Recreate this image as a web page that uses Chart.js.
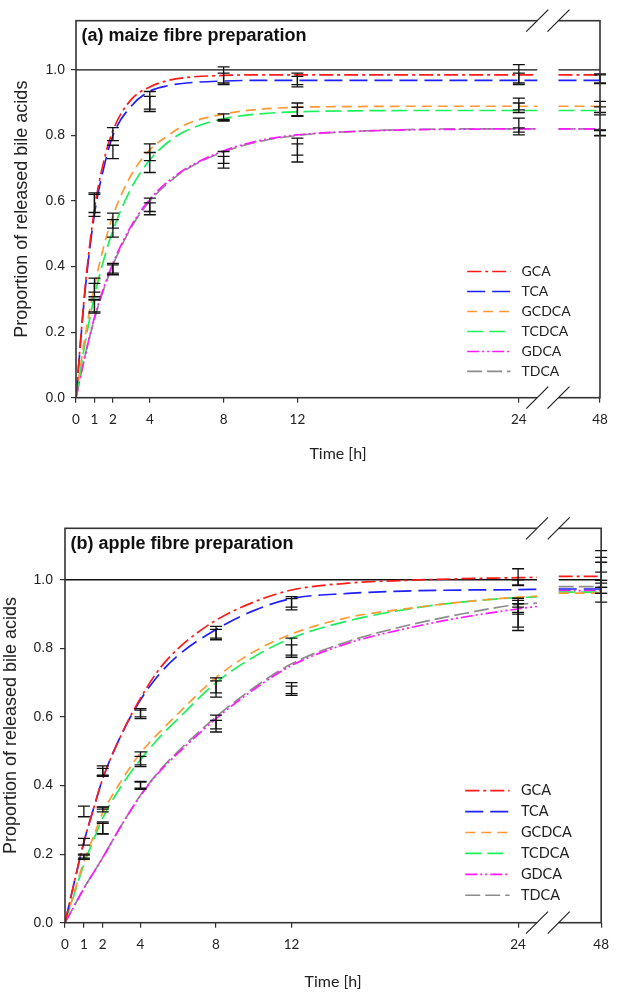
<!DOCTYPE html>
<html>
<head>
<meta charset="utf-8">
<script src="https://cdn.jsdelivr.net/npm/chart.js@4.4.1/dist/chart.umd.min.js"></script>
<style>
  html, body { margin: 0; padding: 0; background: #fff; }
  #wrap { position: relative; width: 618px; height: 992px; }
  .panel { position: absolute; left: 0; width: 618px; }
</style>
</head>
<body>
<div id="wrap">
  <div class="panel" style="top:0;height:470px"><canvas id="chartA"></canvas></div>
  <div class="panel" style="top:470px;height:522px"><canvas id="chartB"></canvas></div>
</div>
<script>
// time axis: linear 0-25 h, broken, then 48 h sits at axis position 28.4
const X_BREAK_START = 25.0;
const X_BREAK_END = 26.15;
const X_48 = 28.4;
const axisPos = (h) => (h === 48 ? X_48 : h);

const xTickHours = [0, 1, 2, 4, 8, 12, 24, 48];
const yTickValues = [0, 0.2, 0.4, 0.6, 0.8, 1.0];

const seriesNames = ["GCA", "TCA", "GCDCA", "TCDCA", "GDCA", "TDCA"];

const curveHours = [0, 0.5, 1, 1.5, 2, 3, 4, 5, 6, 8, 10, 12, 15, 18, 21, 24, 25];

// (a) maize fibre preparation
const maizeGCA = [0, 0.34, 0.575, 0.72, 0.815, 0.91, 0.948, 0.968, 0.977, 0.983, 0.985, 0.985, 0.985, 0.985, 0.985, 0.985, 0.985];
const maizeTCA = [0, 0.33, 0.56, 0.70, 0.80, 0.89, 0.935, 0.952, 0.96, 0.966, 0.968, 0.968, 0.968, 0.968, 0.968, 0.968, 0.968];
const maizeGCDCA = [0, 0.19, 0.34, 0.46, 0.555, 0.68, 0.756, 0.80, 0.835, 0.865, 0.88, 0.886, 0.888, 0.889, 0.889, 0.889, 0.889];
const maizeTCDCA = [0, 0.17, 0.31, 0.42, 0.51, 0.64, 0.725, 0.78, 0.815, 0.851, 0.866, 0.872, 0.875, 0.876, 0.876, 0.876, 0.876];
const maizeGDCA = [0, 0.13, 0.245, 0.335, 0.41, 0.525, 0.605, 0.66, 0.70, 0.753, 0.785, 0.802, 0.812, 0.817, 0.819, 0.82, 0.82];
const maizeTDCA = [0, 0.13, 0.24, 0.33, 0.405, 0.52, 0.60, 0.655, 0.697, 0.75, 0.782, 0.80, 0.812, 0.818, 0.82, 0.82, 0.82];
const maizeAt48 = [0.985, 0.968, 0.889, 0.876, 0.82, 0.82];

// (b) apple fibre preparation
const appleGCA = [0, 0.12, 0.235, 0.33, 0.42, 0.55, 0.655, 0.74, 0.80, 0.882, 0.935, 0.97, 0.99, 0.998, 1.003, 1.006, 1.007];
const appleTCA = [0, 0.12, 0.235, 0.33, 0.42, 0.55, 0.65, 0.725, 0.78, 0.855, 0.91, 0.945, 0.96, 0.967, 0.97, 0.971, 0.972];
const appleGCDCA = [0, 0.09, 0.178, 0.25, 0.32, 0.415, 0.495, 0.555, 0.61, 0.715, 0.79, 0.842, 0.89, 0.915, 0.935, 0.949, 0.952];
const appleTCDCA = [0, 0.085, 0.17, 0.24, 0.305, 0.40, 0.475, 0.54, 0.595, 0.70, 0.775, 0.83, 0.88, 0.913, 0.935, 0.948, 0.95];
const appleGDCA = [0, 0.05, 0.10, 0.145, 0.19, 0.285, 0.37, 0.44, 0.495, 0.595, 0.68, 0.75, 0.815, 0.857, 0.89, 0.915, 0.922];
const appleTDCA = [0, 0.05, 0.10, 0.145, 0.19, 0.285, 0.372, 0.443, 0.50, 0.60, 0.685, 0.755, 0.82, 0.865, 0.90, 0.928, 0.932];
const appleAt48 = [1.01, 0.973, 0.961, 0.964, 0.968, 0.98];

// measured points: [low, high] of each error bar at these hours
const errHours = [1, 2, 4, 8, 12, 24, 48];

const maizeErrGCA = [[0.565, 0.625], [0.784, 0.824], [0.88, 0.934], [0.955, 1.009], [0.948, 0.99], [0.955, 1.016], [0.958, 0.988]];
const maizeErrTCA = [[0.553, 0.62], [0.729, 0.77], [0.873, 0.919], [0.96, 0.99], [0.955, 0.98], [0.96, 0.99], [0.96, 0.985]];
const maizeErrGCDCA = [[0.322, 0.365], [0.517, 0.563], [0.723, 0.774], [0.846, 0.866], [0.86, 0.899], [0.878, 0.914], [0.87, 0.904]];
const maizeErrTCDCA = [[0.308, 0.349], [0.49, 0.543], [0.687, 0.748], [0.844, 0.849], [0.858, 0.886], [0.87, 0.899], [0.863, 0.887]];
const maizeErrGDCA = [[0.258, 0.298], [0.375, 0.41], [0.568, 0.609], [0.70, 0.751], [0.719, 0.792], [0.802, 0.853], [0.799, 0.817]];
const maizeErrTDCA = [[0.262, 0.30], [0.38, 0.405], [0.558, 0.594], [0.715, 0.736], [0.74, 0.774], [0.81, 0.823], [0.80, 0.815]];

const appleErrGCA = [[0.309, 0.34], [0.427, 0.457], [0.595, 0.624], [0.825, 0.864], [0.912, 0.951], [0.983, 1.032], [1.022, 1.085]];
const appleErrTCA = [[0.226, 0.246], [0.43, 0.45], [0.60, 0.62], [0.83, 0.855], [0.92, 0.945], [0.985, 1.0], [0.935, 1.065]];
const appleErrGCDCA = [[0.185, 0.20], [0.323, 0.338], [0.455, 0.498], [0.658, 0.714], [0.774, 0.83], [0.90, 0.946], [0.978, 1.051]];
const appleErrTCDCA = [[0.188, 0.197], [0.331, 0.337], [0.46, 0.485], [0.67, 0.705], [0.78, 0.81], [0.905, 0.94], [0.96, 0.998]];
const appleErrGDCA = [null, [0.258, 0.294], [0.389, 0.412], [0.556, 0.605], [0.663, 0.70], [0.862, 0.93], [0.978, 0.998]];
const appleErrTDCA = [null, [0.26, 0.29], [0.392, 0.41], [0.565, 0.59], [0.668, 0.69], [0.852, 0.92], [0.96, 0.99]];

// styles
const seriesColors = ["#ff1a1a", "#1f1fff", "#ff9933", "#19f25a", "#ff1aff", "#8c8c8c"];
const seriesDashes = [[14, 4, 3, 4], [18, 7], [10, 6], [16, 6], [12, 3, 2, 3, 2, 3], [15, 5]];
const legendX = [21.2, 23.55, 24.15]; // line start, line end, text start (axis units)
const legendY0 = 0.385;
const legendStep = 0.061;

const buildDatasets = (curves, at48) => {
  const sets = curves.map((vals, i) => ({
    label: seriesNames[i],
    data: curveHours
      .map((h, j) => ({ x: h, y: vals[j] }))
      .concat([
        { x: (X_BREAK_START + X_BREAK_END) / 2, y: null },
        { x: X_BREAK_END, y: at48[i] },
        { x: X_48, y: at48[i] },
      ]),
    borderColor: seriesColors[i],
    borderDash: seriesDashes[i],
    borderWidth: 1.7,
    pointRadius: 0,
    cubicInterpolationMode: "monotone",
    spanGaps: false,
    fill: false,
  }));
  // the 1.0 reference line
  sets.push({
    label: "ref",
    data: [
      { x: 0, y: 1 }, { x: X_BREAK_START, y: 1 },
      { x: (X_BREAK_START + X_BREAK_END) / 2, y: null },
      { x: X_BREAK_END, y: 1 }, { x: X_48, y: 1 },
    ],
    borderColor: "#111",
    borderWidth: 1.3,
    pointRadius: 0,
    spanGaps: false,
    fill: false,
  });
  return sets;
};

// error bars, frame, axis breaks, panel title and legend
const panelDecor = {
  id: "panelDecor",
  afterDatasetsDraw(chart, args, opts) {
    const { ctx, chartArea: a, scales: { x, y } } = chart;
    ctx.save();

    ctx.setLineDash([]);
    ctx.strokeStyle = "#111";
    ctx.lineWidth = 1.3;
    opts.errors.forEach((series) => {
      series.forEach((r, i) => {
        if (!r) return;
        const px = x.getPixelForValue(axisPos(errHours[i]));
        const lo = y.getPixelForValue(r[0]);
        const hi = y.getPixelForValue(r[1]);
        ctx.beginPath();
        ctx.moveTo(px, lo); ctx.lineTo(px, hi);
        ctx.moveTo(px - 6, lo); ctx.lineTo(px + 6, lo);
        ctx.moveTo(px - 6, hi); ctx.lineTo(px + 6, hi);
        ctx.stroke();
      });
    });

    // frame
    ctx.strokeStyle = "#333";
    ctx.lineWidth = 1.6;
    ctx.strokeRect(a.left, a.top, a.width, a.height);

    // axis break marks on top and bottom border
    const b0 = x.getPixelForValue(X_BREAK_START);
    const b1 = x.getPixelForValue(X_BREAK_END);
    [a.top, a.bottom].forEach((yy) => {
      ctx.fillStyle = "#fff";
      ctx.fillRect(b0, yy - 2, b1 - b0, 4);
      ctx.beginPath();
      [b0, b1].forEach((bx) => {
        ctx.moveTo(bx - 11, yy + 11);
        ctx.lineTo(bx + 11, yy - 11);
      });
      ctx.strokeStyle = "#222";
      ctx.lineWidth = 1.2;
      ctx.stroke();
    });

    // panel title
    ctx.fillStyle = "#111";
    ctx.font = "bold " + opts.titleSize + "px 'Liberation Sans', Arial, sans-serif";
    ctx.textAlign = "left";
    ctx.textBaseline = "middle";
    ctx.fillText(opts.title, a.left + 5.5, a.top + 15.5);

    // legend
    ctx.font = opts.legendSize + "px Lato, sans-serif";
    seriesNames.forEach((name, i) => {
      const py = y.getPixelForValue(legendY0 - i * legendStep);
      ctx.beginPath();
      ctx.setLineDash(seriesDashes[i]);
      ctx.strokeStyle = seriesColors[i];
      ctx.lineWidth = 1.7;
      ctx.moveTo(x.getPixelForValue(legendX[0]), py);
      ctx.lineTo(x.getPixelForValue(legendX[1]), py);
      ctx.stroke();
      ctx.setLineDash([]);
      ctx.fillStyle = "#222";
      ctx.fillText(name, x.getPixelForValue(legendX[2]), py);
    });

    ctx.restore();
  },
};

const makeChart = (canvasId, cfg) => {
  new Chart(document.getElementById(canvasId), {
    type: "line",
    data: { datasets: buildDatasets(cfg.curves, cfg.at48) },
    options: {
      responsive: true,
      maintainAspectRatio: false,
      animation: false,
      layout: { padding: cfg.padding },
      plugins: {
        legend: { display: false },
        tooltip: { enabled: false },
        panelDecor: { errors: cfg.errors, title: cfg.title, titleSize: 18, legendSize: cfg.legendSize },
      },
      scales: {
        x: {
          type: "linear",
          min: 0,
          max: X_48,
          afterFit: (s) => { s.height = cfg.xHeight; },
          afterBuildTicks: (s) => { s.ticks = xTickHours.map((h) => ({ value: axisPos(h) })); },
          ticks: {
            callback: (v, i) => String(xTickHours[i]),
            font: { family: "Lato, sans-serif", size: 13.5 },
            color: "#222",
            padding: 9,
            maxRotation: 0,
            autoSkip: false,
          },
          grid: { drawOnChartArea: false, tickLength: 5, color: "#333", lineWidth: 1.2 },
          border: { display: false },
          title: {
            display: true,
            text: "Time [h]",
            font: { family: "Lato, sans-serif", size: 16 },
            color: "#222",
            padding: { top: 0, bottom: cfg.xTitlePad },
          },
        },
        y: {
          min: 0,
          max: 1.15,
          afterFit: (s) => { s.width = cfg.yWidth; },
          afterBuildTicks: (s) => { s.ticks = yTickValues.map((v) => ({ value: v })); },
          ticks: {
            callback: (v) => v.toFixed(1),
            font: { family: "'Liberation Sans', Arial, sans-serif", size: 14 },
            color: "#222",
            padding: cfg.yTickPad,
          },
          grid: { drawOnChartArea: false, tickLength: 5, color: "#333", lineWidth: 1.2 },
          border: { display: false },
          title: {
            display: true,
            text: "Proportion of released bile acids",
            font: { family: "'Liberation Sans', Arial, sans-serif", size: 18 },
            color: "#222",
            padding: { top: cfg.yTitlePad, bottom: 0 },
          },
        },
      },
    },
    plugins: [panelDecor],
  });
};

makeChart("chartA", {
  title: "(a) maize fibre preparation",
  curves: [maizeGCA, maizeTCA, maizeGCDCA, maizeTCDCA, maizeGDCA, maizeTDCA],
  at48: maizeAt48,
  errors: [maizeErrGCA, maizeErrTCA, maizeErrGCDCA, maizeErrTCDCA, maizeErrGDCA, maizeErrTDCA],
  padding: { top: 20.7, right: 18, left: 0, bottom: 0 },
  xHeight: 72.3,
  yWidth: 76,
  xTitlePad: 7,
  yTitlePad: 11,
  yTickPad: 6,
  legendSize: 14,
});

makeChart("chartB", {
  title: "(b) apple fibre preparation",
  curves: [appleGCA, appleTCA, appleGCDCA, appleTCDCA, appleGDCA, appleTDCA],
  at48: appleAt48,
  errors: [appleErrGCA, appleErrTCA, appleErrGCDCA, appleErrTCDCA, appleErrGDCA, appleErrTDCA],
  padding: { top: 58.3, right: 6.3, left: 0, bottom: 0 },
  xHeight: 69.3,
  yWidth: 65,
  xTitlePad: 1,
  yTitlePad: 0,
  yTickPad: 7,
  legendSize: 14.5,
});
</script>
</body>
</html>
